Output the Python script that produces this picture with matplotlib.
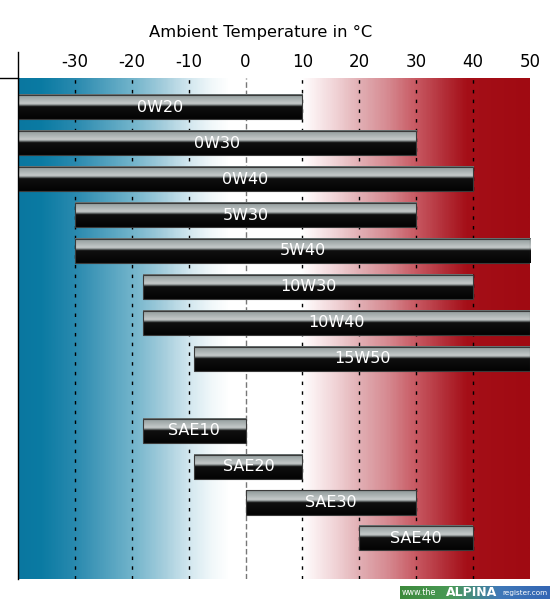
import numpy as np
import matplotlib.pyplot as plt
from matplotlib.colors import LinearSegmentedColormap
from matplotlib.patches import Rectangle
from matplotlib.lines import Line2D

# Multigrade oils (top block) and single grade oils (bottom block)
multi_names = ['0W20', '0W30', '0W40', '5W30', '5W40', '10W30', '10W40', '15W50']
multi_lo = [-40, -40, -40, -30, -30, -18, -18, -9]
multi_hi = [10, 30, 40, 30, 50, 40, 50, 50]

single_names = ['SAE10', 'SAE20', 'SAE30', 'SAE40']
single_lo = [-18, -9, 0, 20]
single_hi = [0, 10, 30, 40]

temp_ticks = [-30, -20, -10, 0, 10, 20, 30, 40, 50]
t_min, t_max = -40, 50

names = multi_names + single_names
lo = multi_lo + single_lo
hi = multi_hi + single_hi
rows = list(range(len(multi_names))) + [len(multi_names) + 1 + i for i in range(len(single_names))]

fig = plt.figure(figsize=(5.5, 6), dpi=100)
ax = fig.add_axes([18/550, 21/600, 512/550, 501/600])

y_top, y_bot = -0.815, rows[-1] + 1.13

# background: cold blue -> white -> hot red
stops = [(-40, '#0a77a0'), (-36, '#0b7ba3'), (-30, '#2a8aaf'), (-20, '#72b4cb'),
         (-14, '#a9d0de'), (-10, '#d2e7ef'), (-6, '#f1f8fa'), (-3, '#ffffff'),
         (10, '#ffffff'), (12, '#fbf0f1'), (16, '#f0d2d5'), (20, '#e2b0b5'),
         (25, '#d68b92'), (30, '#c85a63'), (35, '#b32f39'), (39, '#a50f18'),
         (50, '#a00a12')]
bg_cmap = LinearSegmentedColormap.from_list(
    'bg', [((t - t_min) / (t_max - t_min), c) for t, c in stops])
ax.imshow(np.linspace(0, 1, 600).reshape(1, -1), extent=[t_min, t_max, y_bot, y_top],
          aspect='auto', cmap=bg_cmap, zorder=0, interpolation='bilinear')

# dashed grid lines
for t in temp_ticks[:-1]:
    if t == 0:
        ax.axvline(t, color='#777777', lw=1, dashes=(4, 2), zorder=1)
    else:
        ax.axvline(t, color='black', lw=1, dashes=(2.5, 4.5), zorder=1)

# glossy bars
bar_cmap = LinearSegmentedColormap.from_list('bar', [
    (0.0, '#5a6262'), (0.05, '#959e9e'), (0.2, '#aab2b2'), (0.38, '#c6cbcb'),
    (0.44, '#7a8080'), (0.5, '#0f0f0f'), (1.0, '#030303')])
grad = np.linspace(0, 1, 60).reshape(-1, 1)
h = 0.67
for name, a, b, y in zip(names, lo, hi, rows):
    ax.imshow(grad, extent=[a, b, y + h/2, y - h/2], aspect='auto', cmap=bar_cmap,
              zorder=2, interpolation='bilinear')
    ax.add_patch(Rectangle((a, y - h/2), b - a, h, fill=False, ec='#3a3a3a', lw=0.8, zorder=3))
    ax.text((a + b) / 2, y, name, color='white', fontsize=11.5, ha='center', va='center', zorder=4)

ax.set_xlim(t_min, t_max)
ax.set_ylim(y_bot, y_top)
ax.xaxis.tick_top()
ax.set_xticks(temp_ticks)
ax.set_xticklabels([str(t) for t in temp_ticks], fontsize=12)
ax.tick_params(axis='x', length=0, pad=5)
ax.set_yticks([])
for s in ax.spines.values():
    s.set_visible(False)

# table-like frame lines
fig.add_artist(Line2D([18/550, 18/550], [1 - 52/600, 21/600], color='black', lw=1))
fig.add_artist(Line2D([0, 18/550], [1 - 78/600, 1 - 78/600], color='black', lw=1))

fig.text(261/550, 1 - 32/600, 'Ambient Temperature in °C', ha='center', va='center', fontsize=11.8)

# watermark
lax = fig.add_axes([400/550, 1/600, 150/550, 13/600])
logo_cmap = LinearSegmentedColormap.from_list('logo', ['#3d8a3c', '#4a9a56', '#3f78b8', '#3466b4'])
lax.imshow(np.linspace(0, 1, 100).reshape(1, -1), extent=[0, 1, 0, 1], aspect='auto', cmap=logo_cmap)
lax.set_axis_off()
lax.text(0.01, 0.5, 'www.the', color='white', fontsize=5.8, va='center', ha='left')
lax.text(0.48, 0.5, 'ALPINA', color='white', fontsize=9, fontweight='bold', va='center', ha='center')
lax.text(0.985, 0.5, 'register.com', color='white', fontsize=5.2, va='center', ha='right')

fig.savefig('out.png', dpi=100)
